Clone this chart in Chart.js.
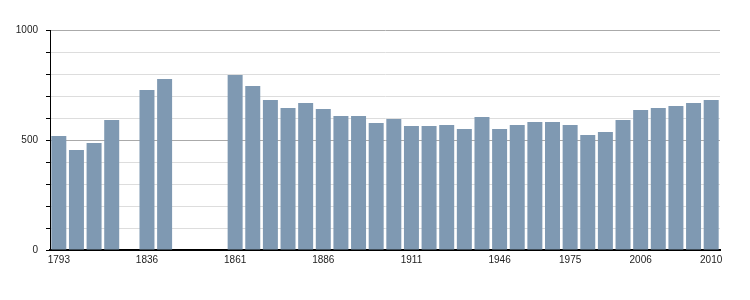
<!DOCTYPE html>
<html>
<head>
<meta charset="utf-8">
<script src="https://cdn.jsdelivr.net/npm/chart.js@4"></script>
<style>
  html, body { margin: 0; padding: 0; background: #fff; }
  #wrap { width: 750px; height: 300px; }
</style>
</head>
<body>
<div id="wrap"><canvas id="popChart" width="750" height="300"></canvas></div>
<script>
// Census years (one slot per year, empty where there is no figure)
const years = ['1793', '1800', '1806', '1821', '1831', '1836', '1841', '1846', '1851', '1856',
    '1861', '1866', '1872', '1876', '1881', '1886', '1891', '1896', '1901', '1906',
    '1911', '1921', '1926', '1931', '1936', '1946', '1954', '1962', '1968', '1975',
    '1982', '1990', '1999', '2006', '2007', '2008', '2009', '2010'];

// Population per year (null = no bar)
const population = [518, 455, 486, 591, null, 727, 777, null, null, null,
    795, 745, 682, 645, 668, 641, 609, 609, 577, 595,
    564, 564, 568, 550, 605, 550, 568, 582, 582, 568,
    523, 536, 591, 636, 645, 655, 668, 682];

// Years that get a label on the x axis
const shownYears = ['1793', '1836', '1861', '1886', '1911', '1946', '1975', '2006', '2010'];

// Y axis labels
const yLabels = [0, 500, 1000];

const fontSpec = { family: "'Liberation Sans', Arial, sans-serif", size: 10 };

const ctx = document.getElementById('popChart').getContext('2d');
new Chart(ctx, {
    type: 'bar',
    data: {
        labels: years,
        datasets: [{
            data: population,
            backgroundColor: '#7f99b2',
            borderWidth: 0,
            categoryPercentage: 1.0,
            barPercentage: 0.85
        }]
    },
    options: {
        responsive: false,
        animation: false,
        layout: {
            padding: { left: 0, right: 30, top: 30, bottom: 30 }
        },
        plugins: {
            legend: { display: false },
            tooltip: { enabled: false }
        },
        scales: {
            x: {
                grid: { display: false, drawTicks: false },
                border: { display: true, color: '#000', width: 2 },
                ticks: {
                    autoSkip: false,
                    maxRotation: 0,
                    padding: 4,
                    color: '#222',
                    font: fontSpec,
                    callback: function (value) {
                        const label = this.getLabelForValue(value);
                        return shownYears.includes(label) ? label : '';
                    }
                },
                afterFit: scale => { scale.height = 20; }
            },
            y: {
                min: 0,
                max: 1000,
                grid: {
                    color: c => (c.tick && c.tick.value % 500 === 0) ? '#aaaaaa' : '#dddddd',
                    tickColor: '#000',
                    tickLength: 4
                },
                border: { display: true, color: '#000', width: 1 },
                ticks: {
                    stepSize: 100,
                    padding: 8,
                    color: '#222',
                    font: fontSpec,
                    callback: value => yLabels.includes(value) ? value : ''
                },
                afterFit: scale => { scale.width = 50; }
            }
        }
    }
});
</script>
</body>
</html>
